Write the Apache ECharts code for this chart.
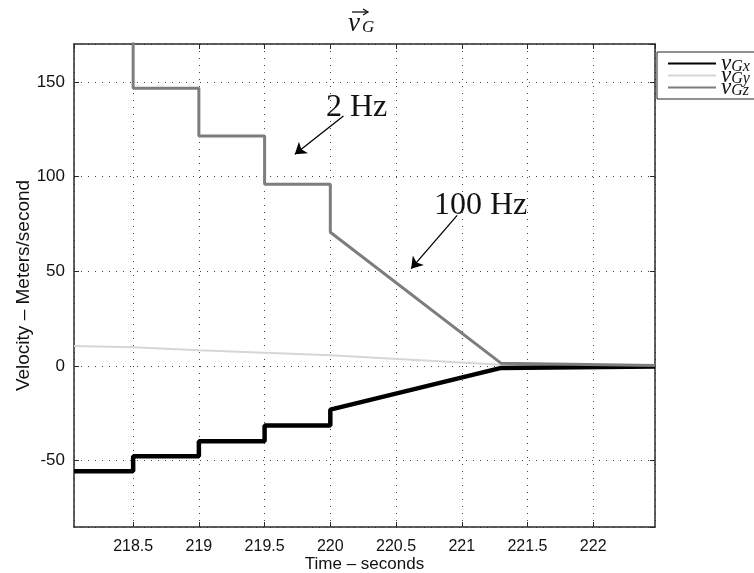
<!DOCTYPE html>
<html>
<head>
<meta charset="utf-8">
<script src="https://cdn.jsdelivr.net/npm/echarts@6/dist/echarts.min.js"></script>
<style>
  html, body { margin: 0; padding: 0; background: #fff; }
  #chart { width: 754px; height: 573px; }
</style>
</head>
<body>
<div id="chart"></div>
<script>
// Sample times (s) shared by all three velocity components
const times = [218.05, 218.5, 218.5, 219, 219, 219.5, 219.5, 220, 220, 221.3, 222.47];
// Velocity components (m/s)
const vGx = [-55.6, -55.6, -47.7, -47.7, -39.7, -39.7, -31.4, -31.4, -23.0, -1.0, -0.2];
const vGy = [10.6, 9.9, 9.0, 8.3, 7.6, 7.0, 6.3, 5.7, 4.8, 0.6, 0.1];
const vGz = [171.8, 171.8, 146.6, 146.6, 121.4, 121.4, 96.0, 96.0, 70.6, 1.4, 0.3];
const seriesNames = ['v_Gx', 'v_Gy', 'v_Gz'];
const xRange = [218.05, 222.47];
const yRange = [-85, 170];

const pairs = vals => times.map((t, i) => [t, vals[i]]);

const chart = echarts.init(document.getElementById('chart'), null, { renderer: 'canvas' });

const serif = '"Liberation Serif", "DejaVu Serif", serif';
const sans = '"Liberation Sans", Arial, sans-serif';
const frameColor = '#2a2a2a';

function mainAxis(pos, range, split, name, nameGap, nameSize, labelSize, labelMargin) {
  return {
    type: 'value', position: pos, min: range[0], max: range[1], splitNumber: split,
    name: name, nameLocation: 'middle', nameGap: nameGap, nameMoveOverlap: false,
    nameTextStyle: { fontFamily: sans, fontSize: nameSize, color: '#111' },
    axisLine: { show: true, onZero: false, lineStyle: { color: frameColor, width: 1.5 } },
    axisTick: { show: true, inside: true, length: 5, lineStyle: { color: frameColor, width: 1 } },
    axisLabel: { show: true, showMinLabel: false, showMaxLabel: false, fontFamily: sans, fontSize: labelSize, color: '#111', margin: labelMargin },
    splitLine: { show: true, lineStyle: { color: '#444', width: 1, type: [1, 6] } }
  };
}
function frameAxis(pos, range, split) {
  return {
    type: 'value', position: pos, min: range[0], max: range[1], splitNumber: split,
    axisLine: { show: true, onZero: false, lineStyle: { color: frameColor, width: 1.5 } },
    axisTick: { show: true, inside: true, length: 5, lineStyle: { color: frameColor, width: 1 } },
    axisLabel: { show: false },
    splitLine: { show: false }
  };
}

const arrowLines = [
  [{ coord: [220.10, 132.0] }, { coord: [219.73, 111.8] }],
  [{ coord: [220.965, 79.5] }, { coord: [220.615, 51.4] }]
];

const option = {
  animation: false,
  backgroundColor: '#fff',
  grid: { left: 74, top: 44, right: 99, bottom: 46, containLabel: false, outerBoundsMode: 'none' },
  xAxis: [
    mainAxis('bottom', xRange, 9, 'Time \u2013 seconds', 29, 17, 16, 12),
    frameAxis('top', xRange, 9)
  ],
  yAxis: [
    mainAxis('left', yRange, 5, 'Velocity \u2013 Meters/second', 41, 19, 17, 9),
    frameAxis('right', yRange, 5)
  ],
  legend: {
    data: seriesNames,
    orient: 'vertical', left: 657, top: 52,
    backgroundColor: '#fff',
    borderColor: '#222', borderWidth: 1,
    padding: [0, 60, 0, 10],
    itemGap: -11, itemWidth: 48, itemHeight: 12,
    itemStyle: { opacity: 0 },
    selectedMode: false,
    formatter: n => '{v|v}{s|' + n.slice(2) + '}',
    textStyle: {
      rich: {
        v: { fontFamily: serif, fontStyle: 'italic', fontSize: 23, lineHeight: 12, color: '#111' },
        s: { fontFamily: serif, fontStyle: 'italic', fontSize: 16, lineHeight: 12, color: '#111', padding: [6, 0, 0, 0] }
      }
    }
  },
  series: [
    {
      name: seriesNames[0], type: 'line', data: pairs(vGx), symbol: 'none',
      lineStyle: { color: '#000', width: 4.5 }, itemStyle: { color: '#000' }, z: 3
    },
    {
      name: seriesNames[1], type: 'line', data: pairs(vGy), symbol: 'none',
      lineStyle: { color: '#d6d6d6', width: 2 }, itemStyle: { color: '#d6d6d6' }, z: 2
    },
    {
      name: seriesNames[2], type: 'line', data: pairs(vGz), symbol: 'none',
      lineStyle: { color: '#7d7d7d', width: 3 }, itemStyle: { color: '#7d7d7d' }, z: 4,
      markLine: {
        silent: true, animation: false,
        symbol: ['none', 'arrow'], symbolSize: 11,
        lineStyle: { color: '#000', width: 1.3, type: 'solid' },
        label: { show: false },
        emphasis: { disabled: true },
        data: arrowLines
      }
    }
  ],
  graphic: [
    // title: v with vector arrow, subscript G
    { type: 'text', left: 348, top: 10, silent: true,
      style: { text: 'v', font: 'italic 27px ' + serif, fill: '#111' } },
    { type: 'text', left: 362, top: 19, silent: true,
      style: { text: 'G', font: 'italic 17px ' + serif, fill: '#111' } },
    { type: 'line', silent: true, shape: { x1: 352, y1: 12, x2: 367, y2: 12 },
      style: { stroke: '#111', lineWidth: 1.3 } },
    { type: 'polyline', silent: true, shape: { points: [[363, 9], [368, 12], [363, 15]] },
      style: { stroke: '#111', lineWidth: 1.3, fill: null } },
    // rate annotations
    { type: 'text', left: 326, top: 92, silent: true,
      style: { text: '2 Hz', font: '32px ' + serif, fill: '#111' } },
    { type: 'text', left: 434, top: 190, silent: true,
      style: { text: '100 Hz', font: '32px ' + serif, fill: '#111' } }
  ]
};

chart.setOption(option);
</script>
</body>
</html>
